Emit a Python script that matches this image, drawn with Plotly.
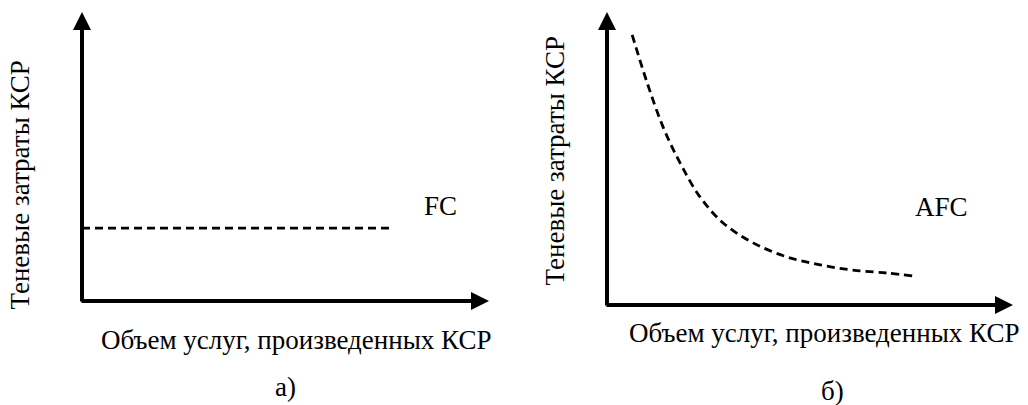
import plotly.graph_objects as go

# ---------------- data ----------------
# Panel a: fixed costs (constant level)
fc_x = [0.0, 7.65]
fc_y = [2.52, 2.52]

# Panel b: average fixed costs (decreasing curve)
afc_x = [0.62, 0.99, 1.38, 1.80, 2.29, 2.86, 3.60, 4.43, 5.25, 6.06, 6.90, 7.54]
afc_y = [9.22, 7.58, 6.08, 4.85, 3.69, 2.80, 2.12, 1.64, 1.37, 1.19, 1.09, 0.99]

y_title = "Теневые затраты КСР"
x_title = "Объем услуг, произведенных КСР"
panel_labels = ["а)", "б)"]
curve_labels = ["FC", "AFC"]

# ---------------- layout helpers ----------------
W, H = 1028, 405
FONT = "Liberation Serif, Times New Roman, serif"
FS = 27


def axis_range(p0, p10, dom0, dom1, size, invert=False):
    """range so that value 0 sits at pixel p0 and value 10 at pixel p10"""
    if invert:
        p0, p10 = size - p0, size - p10
    lo_px, hi_px = dom0 * size, dom1 * size
    per = (p10 - p0) / 10.0
    return [(lo_px - p0) / per, (hi_px - p0) / per]


fig = go.Figure()

dash = "8px,5px"
fig.add_trace(go.Scatter(x=fc_x, y=fc_y, mode="lines",
                         line=dict(color="black", width=2.8, dash=dash),
                         xaxis="x", yaxis="y", showlegend=False, hoverinfo="skip"))
fig.add_trace(go.Scatter(x=afc_x, y=afc_y, mode="lines",
                         line=dict(color="black", width=2.8, dash=dash, shape="spline"),
                         xaxis="x2", yaxis="y2", showlegend=False, hoverinfo="skip"))

hidden = dict(visible=False, showgrid=False, zeroline=False, fixedrange=True)
fig.update_layout(
    width=W, height=H,
    margin=dict(l=0, r=0, t=0, b=0),
    paper_bgcolor="white", plot_bgcolor="white",
    xaxis=dict(domain=[0, 0.5], range=axis_range(82, 489, 0, 0.5, W), **hidden),
    yaxis=dict(domain=[0, 1], range=axis_range(301, 12, 0, 1, H, invert=True), **hidden),
    xaxis2=dict(domain=[0.5, 1], range=axis_range(607, 1013, 0.5, 1, W), anchor="y2", **hidden),
    yaxis2=dict(domain=[0, 1], range=axis_range(305, 12, 0, 1, H, invert=True), anchor="x2", **hidden),
    font=dict(family=FONT, size=FS, color="black"),
)

anns = []
for xr, yr in (("x", "y"), ("x2", "y2")):
    anns.append(dict(x=0, y=10, ax=0, ay=-0.07, xref=xr, yref=yr, axref=xr, ayref=yr,
                     text="", showarrow=True, arrowhead=2, arrowsize=0.9,
                     arrowwidth=4, arrowcolor="black", standoff=0))
    anns.append(dict(x=10, y=0, ax=-0.05, ay=0, xref=xr, yref=yr, axref=xr, ayref=yr,
                     text="", showarrow=True, arrowhead=2, arrowsize=0.9,
                     arrowwidth=4, arrowcolor="black", standoff=0))

# panel a texts
anns += [
    dict(x=-1.52, y=4.0, xref="x", yref="y", text=y_title, textangle=-90,
         showarrow=False, font=dict(size=FS)),
    dict(x=5.27, y=-1.35, xref="x", yref="y", text=x_title, showarrow=False,
         font=dict(size=FS)),
    dict(x=5.0, y=-2.98, xref="x", yref="y", text=panel_labels[0], showarrow=False,
         font=dict(size=FS)),
    dict(x=8.82, y=3.3, xref="x", yref="y", text=curve_labels[0], showarrow=False,
         font=dict(size=FS)),
]
# panel b texts
anns += [
    dict(x=-1.28, y=4.9, xref="x2", yref="y2", text=y_title, textangle=-90,
         showarrow=False, font=dict(size=FS)),
    dict(x=5.35, y=-0.95, xref="x2", yref="y2", text=x_title, showarrow=False,
         font=dict(size=FS)),
    dict(x=5.55, y=-2.95, xref="x2", yref="y2", text=panel_labels[1], showarrow=False,
         font=dict(size=FS)),
    dict(x=8.25, y=3.35, xref="x2", yref="y2", text=curve_labels[1], showarrow=False,
         font=dict(size=FS)),
]
fig.update_layout(annotations=anns)

fig.write_html("out.html", config={"displayModeBar": False},
               post_script="document.body.style.margin='0';document.body.style.overflow='hidden';")
